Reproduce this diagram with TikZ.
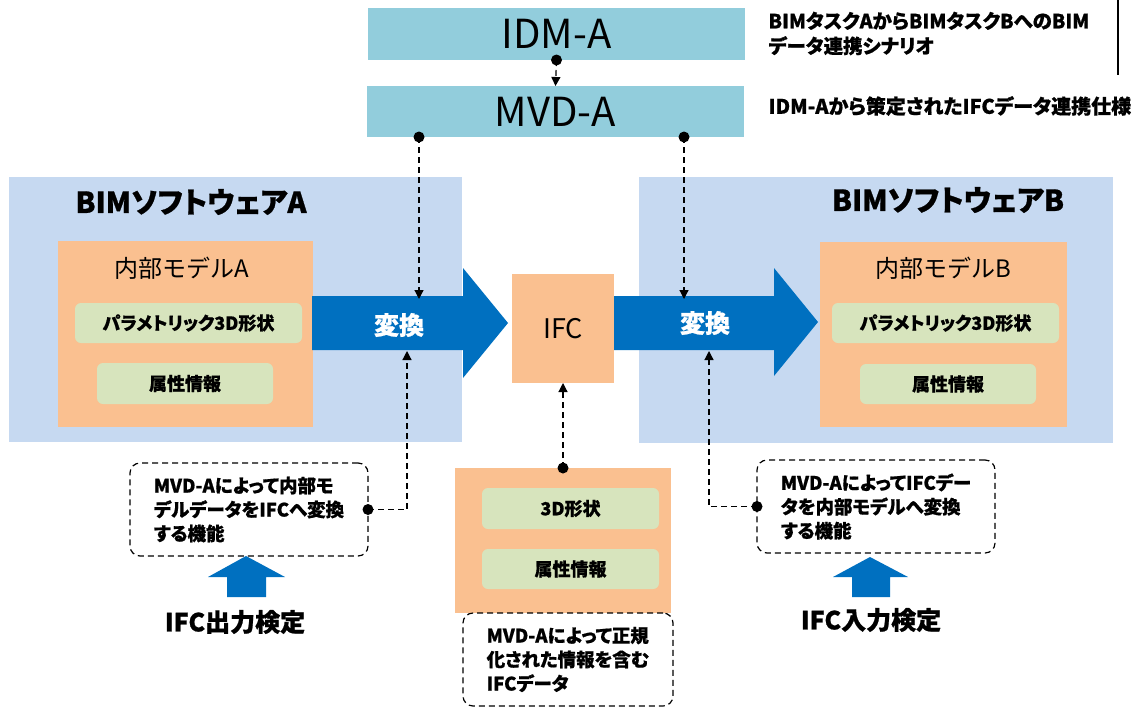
\documentclass[tikz,border=0pt]{standalone}
\usepackage{fontspec}
\setmainfont{Noto Sans CJK JP}
\newfontfamily\gothic[RawFeature=+palt,BoldFeatures={FakeBold=0.8}]{Noto Sans CJK JP}
\usepackage{tikz}
\usetikzlibrary{arrows.meta}

\definecolor{idmblue}{HTML}{92CDDC}
\definecolor{swblue}{HTML}{C6D9F1}
\definecolor{modelorange}{HTML}{FAC090}
\definecolor{attrgreen}{HTML}{D7E4BD}
\definecolor{convblue}{HTML}{0070C0}

\begin{document}
\begin{tikzpicture}[x=1pt,y=-1pt,
  box/.style={inner sep=0pt,outer sep=0pt},
  item/.style={box,fill=attrgreen,rounded corners=6pt,font=\gothic\bfseries\fontsize{18}{20}\selectfont},
  note/.style={box,draw,line width=1.2pt,dash pattern=on 6pt off 4pt,rounded corners=10pt,
    align=left,font=\gothic\bfseries\fontsize{18.5}{24}\selectfont},
  link/.style={line width=1.2pt,dash pattern=on 6pt off 4pt,-{Triangle[width=9pt,length=9pt]}},
  bold/.style={font=\gothic\bfseries\fontsize{#1}{#1}\selectfont}]
\useasboundingbox (0,0) rectangle (1147,707);

% IDM / MVD
\node[box,fill=idmblue,minimum width=377pt,minimum height=52pt,font=\fontsize{40}{40}\selectfont] (idm) at (556.5,34) {IDM-A};
\node[box,fill=idmblue,minimum width=377pt,minimum height=51pt,font=\fontsize{40}{40}\selectfont] (mvd) at (555.5,111.5) {MVD-A};
\node[anchor=west,align=left,font=\gothic\bfseries\fontsize{19.5}{25}\selectfont] (scen) at (765,33.5) {BIMタスクAからBIMタスクBへのBIM\\データ連携シナリオ};
\node[bold=20,anchor=west] (spec) at (765,106) {IDM-Aから策定されたIFCデータ連携仕様};
\draw[line width=1.5pt] (1118,0) -- (1118,75);

%-------------------------------------
% BIMソフトウェアA
\node[box,fill=swblue,minimum width=453pt,minimum height=265pt] (swA) at (235.5,309.5) {};
\node[bold=29] (swAtitle) at (191,202) {BIMソフトウェアA};
\node[box,fill=modelorange,minimum width=255pt,minimum height=186pt] (modelA) at (185.5,334) {};
\node[font=\fontsize{24}{24}\selectfont] (modelAtitle) at (182,268) {内部モデルA};
\node[item,minimum width=227pt,minimum height=40pt] (geoA) at (188.5,323) {パラメトリック3D形状};
\node[item,minimum width=176pt,minimum height=41pt] (attrA) at (185,383.5) {属性情報};

%-------------------------------------
% BIMソフトウェアB
\node[box,fill=swblue,minimum width=474pt,minimum height=266pt] (swB) at (876,310) {};
\node[bold=29] (swBtitle) at (948,200) {BIMソフトウェアB};
\node[box,fill=modelorange,minimum width=247pt,minimum height=185pt] (modelB) at (943.5,334.5) {};
\node[font=\fontsize{24}{24}\selectfont] (modelBtitle) at (943,268) {内部モデルB};
\node[item,minimum width=227pt,minimum height=40pt] (geoB) at (945.5,323) {パラメトリック3D形状};
\node[item,minimum width=176pt,minimum height=40pt] (attrB) at (948,384) {属性情報};

%-------------------------------------
% 変換 arrows
\fill[convblue] (312,296) -- (463,296) -- (463,268) -- (508,323) -- (463,378) -- (463,350) -- (312,350) -- cycle;
\fill[convblue] (613,296) -- (774,296) -- (774,268) -- (818,322) -- (774,376) -- (774,350) -- (613,350) -- cycle;
\node[bold=25,text=white] (convA) at (399,325) {変換};
\node[bold=25,text=white] (convB) at (705,323) {変換};

% IFC
\node[box,fill=modelorange,minimum width=102pt,minimum height=109pt,font=\fontsize{27}{27}\selectfont] (ifc) at (563,328.5) {IFC};
\node[box,fill=modelorange,minimum width=216pt,minimum height=145pt] (ifcdata) at (563,540.5) {};
\node[item,minimum width=177pt,minimum height=41pt] (geoC) at (570.5,508.5) {3D形状};
\node[item,minimum width=177pt,minimum height=40pt] (attrC) at (570.5,569) {属性情報};
\node[note,minimum width=210pt,minimum height=93pt] (noteC) at (568,659.5) {MVD-Aによって正規\\化された情報を含む\\IFCデータ};

%-------------------------------------
% 検定
\node[note,minimum width=238pt,minimum height=93pt] (noteA) at (249,509.5) {MVD-Aによって内部モ\\デルデータをIFCへ変換\\する機能};
\node[note,minimum width=238pt,minimum height=93pt] (noteB) at (876,506.5) {MVD-AによってIFCデー\\タを内部モデルへ変換\\する機能};
\fill[convblue] (227,597) -- (227,577) -- (208,577) -- (246,556) -- (285,577) -- (266,577) -- (266,597) -- cycle;
\fill[convblue] (852,597) -- (852,577) -- (833,577) -- (870,557) -- (908,577) -- (890,577) -- (890,597) -- cycle;
\node[bold=25] (outchk) at (235,622) {IFC出力検定};
\node[bold=25] (inchk) at (871,620) {IFC入力検定};

%-------------------------------------
% links
\coordinate (mvdL) at (419,137);
\coordinate (mvdR) at (684,137);
\coordinate (convAtop) at (419,299);
\coordinate (convBtop) at (684,299);
\coordinate (convAbot) at (407,351);
\coordinate (convBbot) at (709,351);
\draw[link] (idm.south) -- (mvd.north);
\draw[link] (mvdL) -- (convAtop);
\draw[link] (mvdR) -- (convBtop);
\draw[link] (noteA.east) -| (convAbot);
\draw[link] (noteB.west) -| (convBbot);
\draw[link] (ifcdata.north) -- (ifc.south);
\fill (idm.south) circle(5.5);
\fill (mvdL) circle(5.5);
\fill (mvdR) circle(5.5);
\fill (noteA.east) circle(5.5);
\fill (noteB.west) circle(5.5);
\fill (ifcdata.north) circle(5.5);
\end{tikzpicture}
\end{document}
